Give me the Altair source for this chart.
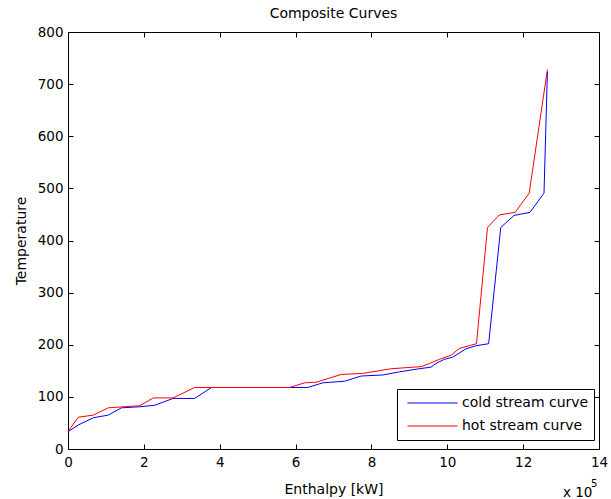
import altair as alt
import pandas as pd

# Values in units of 1e5 kW (axis shows "x 10^5")
cold_x = [0.0, 0.27, 0.67, 1.06, 1.41, 1.89, 2.29, 2.77, 3.34, 3.78, 5.84, 6.32, 6.72, 7.29, 7.73,
          8.30, 8.74, 9.26, 9.57, 9.70, 9.92, 10.14, 10.49, 10.75, 11.09, 11.41, 11.76, 12.18, 12.55, 12.64]
cold_y = [33, 46, 60, 65, 79, 81, 84, 97, 97, 118, 118, 118, 127, 130, 140,
          142, 148, 154, 157, 164, 172, 176, 192, 198, 202, 425, 448, 454, 491, 724]

hot_x = [0.0, 0.27, 0.67, 1.06, 1.89, 2.25, 2.77, 3.34, 5.84, 6.24, 6.54, 7.20, 7.77, 8.52,
         9.31, 9.53, 9.79, 10.10, 10.32, 10.77, 11.06, 11.37, 11.79, 12.16, 12.64]
hot_y = [33, 61, 65, 79, 83, 98, 98, 118, 118, 127, 128, 143, 145, 154,
         158, 164, 172, 180, 193, 202, 425, 449, 454, 491, 728]

series_names = ["cold stream curve", "hot stream curve"]
series_colors = ["#0000ff", "#ff0000"]
x_ticks = [0, 2, 4, 6, 8, 10, 12, 14]
y_ticks = [0, 100, 200, 300, 400, 500, 600, 700, 800]

rows = []
for i, (x, y) in enumerate(zip(cold_x, cold_y)):
    rows.append({"series": series_names[0], "H": x, "T": y, "order": i})
for i, (x, y) in enumerate(zip(hot_x, hot_y)):
    rows.append({"series": series_names[1], "H": x, "T": y, "order": i})
df = pd.DataFrame(rows)

FONT = "DejaVu Sans"
xs = alt.Scale(domain=[0, 14], nice=False, zero=False)
ys = alt.Scale(domain=[0, 800], nice=False, zero=False)

lines = alt.Chart(df).mark_line(strokeWidth=1).encode(
    x=alt.X("H:Q", scale=xs, axis=alt.Axis(
        orient="bottom", values=x_ticks, title="Enthalpy [kW]", ticks=False, tickSize=0,
        domain=False, grid=False, labelPadding=6, titlePadding=14, labelFlush=False,
        labelOverlap=False, labelFont=FONT, labelFontSize=13.5, labelColor="black",
        titleFont=FONT, titleFontSize=14, titleFontWeight="normal", titleColor="black")),
    y=alt.Y("T:Q", scale=ys, axis=alt.Axis(
        orient="left", values=y_ticks, title="Temperature", ticks=False, tickSize=0,
        domain=False, grid=False, labelPadding=5, titlePadding=9, labelFlush=False,
        labelOverlap=False, labelFont=FONT, labelFontSize=13.5, labelColor="black",
        titleFont=FONT, titleFontSize=14, titleFontWeight="normal", titleColor="black")),
    color=alt.Color("series:N", scale=alt.Scale(domain=series_names, range=series_colors),
                    legend=alt.Legend(
                        orient="none", legendX=329, legendY=357, title=None,
                        strokeColor="black", fillColor="white", padding=5,
                        symbolType="stroke", symbolSize=2500, symbolStrokeWidth=1,
                        labelFontSize=14, labelFont=FONT, labelColor="black",
                        clipHeight=18, rowPadding=5, symbolOffset=5, labelOffset=4,
                        labelLimit=300, cornerRadius=0)),
    order="order:Q",
)

TICKC = "black"
ticks_bl = alt.Chart(df).mark_point(opacity=0).encode(
    x=alt.X("H:Q", scale=xs, axis=alt.Axis(
        orient="bottom", values=x_ticks, labels=False, domain=False, grid=False,
        tickSize=5, offset=-5, title=None, tickColor=TICKC, tickWidth=1)),
    y=alt.Y("T:Q", scale=ys, axis=alt.Axis(
        orient="left", values=y_ticks, labels=False, domain=False, grid=False,
        tickSize=5, offset=-5, title=None, tickColor=TICKC, tickWidth=1)),
)

ticks_tr = alt.Chart(df).mark_point(opacity=0).encode(
    x=alt.X("H:Q", scale=xs, axis=alt.Axis(
        orient="top", values=x_ticks, labels=False, domain=False, grid=False,
        tickSize=5, offset=-5, title=None, tickColor=TICKC, tickWidth=1)),
    y=alt.Y("T:Q", scale=ys, axis=alt.Axis(
        orient="right", values=y_ticks, labels=False, domain=False, grid=False,
        tickSize=5, offset=-5, title=None, tickColor=TICKC, tickWidth=1)),
)

exp_base = alt.Chart(pd.DataFrame({"t": ["x 10"]})).mark_text(
    font=FONT, fontSize=13.5, align="left", baseline="middle", color="black"
).encode(text="t:N", x=alt.value(495), y=alt.value(461))

exp_pow = alt.Chart(pd.DataFrame({"t": ["5"]})).mark_text(
    font=FONT, fontSize=10, align="left", baseline="middle", color="black"
).encode(text="t:N", x=alt.value(523), y=alt.value(452))

chart = alt.layer(lines, ticks_bl, ticks_tr, exp_base, exp_pow).resolve_axis(
    x="independent", y="independent"
).properties(
    width=531, height=417,
    autosize=alt.AutoSizeParams(type="none"),
    padding={"left": 68, "top": 32, "right": 12, "bottom": 50},
    title=alt.TitleParams("Composite Curves", font=FONT, fontSize=14, fontWeight="normal",
                          color="black", frame="group", anchor="middle", offset=4),
    background="white",
).configure_view(stroke="black", strokeWidth=1)

chart.save("out.html", embed_options={"renderer": "svg", "actions": False})
